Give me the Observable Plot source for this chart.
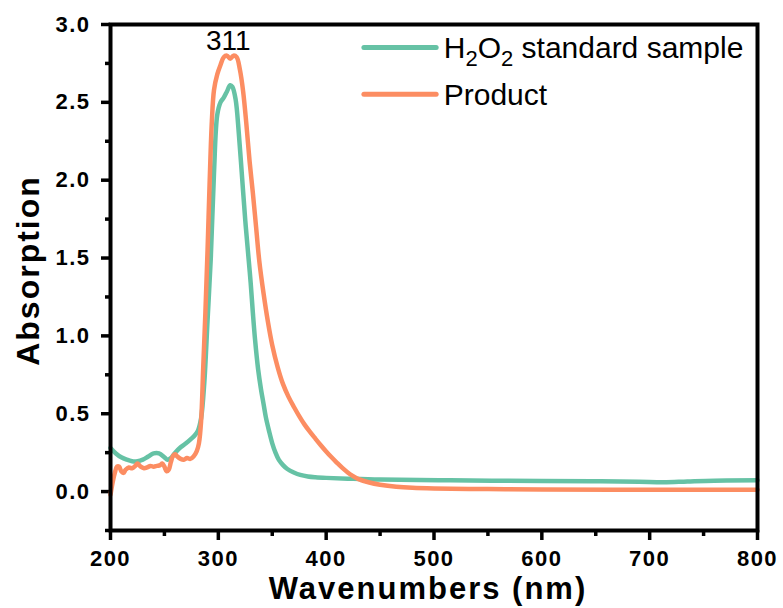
<!DOCTYPE html>
<html>
<head>
<meta charset="utf-8">
<script src="https://cdn.jsdelivr.net/npm/d3@7"></script>
<script src="https://cdn.jsdelivr.net/npm/@observablehq/plot@0.6"></script>
<style>
  html, body { margin: 0; padding: 0; background: #fff; }
  #chart svg { display: block; }
  g[aria-label="y-axis tick label"] text, g[aria-label="x-axis tick label"] text { letter-spacing: 1.5px; }
</style>
</head>
<body>
<div id="chart"></div>
<script>
// ---- data ----
const h2o2Wl = [200,205,210,215,220,225,230,235,240,245,250,253,256,260,265,270,275,278,281,284,287,290,293,296,299,302,305,308,311,313,316,319,322,325,328,330,332,334,337,339.5,342,344,347,350,353,356,360,364,370,376,383,390,400,420,450,515,600,650,690,713,735,760,800];
const h2o2Abs = [0.28,0.245,0.22,0.205,0.195,0.195,0.205,0.225,0.245,0.245,0.22,0.205,0.215,0.25,0.285,0.31,0.34,0.36,0.39,0.47,0.70,1.10,1.50,2.05,2.42,2.50,2.53,2.57,2.61,2.60,2.52,2.30,2.02,1.74,1.50,1.34,1.15,0.98,0.78,0.66,0.56,0.48,0.39,0.31,0.25,0.205,0.17,0.145,0.123,0.107,0.097,0.092,0.088,0.083,0.077,0.072,0.068,0.066,0.063,0.06,0.065,0.07,0.072];
const prodWl = [200,202,204,206,208,210,212,214,217,220,223,225,228,231,234,237,240,243,246,248,250,252,254,256,258,260,262,265,268,271,274,277,280,282,284,286,288,290,292,294,296,299,302,305,308,311,314,317,320,323,326,329,332,335,338,342,346,350,355,360,365,370,375,380,385,390,395,400,405,410,415,420,425,430,440,450,465,480,500,550,600,700,800];
const prodAbs = [-0.02,0.06,0.12,0.16,0.16,0.13,0.12,0.14,0.155,0.15,0.165,0.18,0.16,0.15,0.155,0.165,0.16,0.165,0.17,0.18,0.16,0.13,0.14,0.19,0.23,0.24,0.225,0.21,0.205,0.215,0.21,0.225,0.26,0.31,0.45,0.80,1.15,1.55,2.00,2.38,2.58,2.68,2.74,2.79,2.80,2.78,2.80,2.79,2.71,2.57,2.36,2.12,1.92,1.70,1.48,1.27,1.09,0.94,0.80,0.69,0.61,0.545,0.485,0.43,0.383,0.34,0.298,0.258,0.22,0.185,0.152,0.123,0.099,0.08,0.058,0.044,0.031,0.024,0.02,0.016,0.013,0.012,0.012];

const seriesNames = ["H2O2 standard sample", "Product"];
const seriesColors = ["#66c2a5", "#fc8d62"];
const xMajor = [200,300,400,500,600,700,800];
const xMinor = [250,350,450,550,650,750];
const yMajor = [0,0.5,1,1.5,2,2.5,3];
const yMinor = [-0.25,0.25,0.75,1.25,1.75,2.25,2.75];
const xTitle = "Wavenumbers (nm)";
const yTitle = "Absorption";
const peakLabel = {x: 311, y: 2.8, text: "311"};

// ---- build ----
const rows = [
  ...h2o2Wl.map((w, i) => ({wl: w, abs: h2o2Abs[i], s: seriesNames[0]})),
  ...prodWl.map((w, i) => ({wl: w, abs: prodAbs[i], s: seriesNames[1]}))
];
// legend placement (data space, inside the frame)
const legX1 = 435, legX2 = 502, legTextX = 509;
const legY = [2.853, 2.552];
const legend = seriesNames.map((s, i) => ({s, y: legY[i]}));

const font = "'Liberation Sans', Arial, sans-serif";
const plot = Plot.plot({
  width: 783,
  height: 608,
  marginLeft: 110,
  marginRight: 26,
  marginTop: 24,
  marginBottom: 78,
  style: {fontFamily: font, color: "#000", background: "#fff"},
  x: {domain: [200, 800]},
  y: {domain: [-0.25, 3.0]},
  color: {domain: seriesNames, range: seriesColors},
  marks: [
    Plot.axisY({ticks: yMajor, tickSize: 9, tickPadding: 11, tickFormat: d3.format(".1f"), fontSize: 22, fontWeight: "bold", strokeWidth: 3.5, label: null}),
    Plot.axisY({ticks: yMinor, tickSize: 5, tickFormat: () => "", strokeWidth: 3.5, label: null}),
    Plot.axisX({ticks: xMajor, tickSize: 10, tickPadding: 10, tickFormat: d3.format("d"), fontSize: 22, fontWeight: "bold", strokeWidth: 3.5, label: null}),
    Plot.axisX({ticks: xMinor, tickSize: 6, tickFormat: () => "", strokeWidth: 3.5, label: null}),
    Plot.line(rows, {x: "wl", y: "abs", z: "s", stroke: "s", strokeWidth: 4.5, curve: "catmull-rom", strokeLinejoin: "round", strokeLinecap: "round"}),
    Plot.frame({stroke: "#000", strokeWidth: 4}),
    Plot.text([peakLabel], {x: "x", y: "y", text: "text", fontSize: 28, dx: -2, dy: -6, lineAnchor: "bottom", fill: "#000"}),
    Plot.link(legend, {x1: () => legX1, x2: () => legX2, y1: "y", y2: "y", stroke: "s", strokeWidth: 5, strokeLinecap: "round"}),
    Plot.text(legend, {x: () => legTextX, y: "y", text: "s", textAnchor: "start", fontSize: 30, lineAnchor: "middle", fill: "#000", dy: 1}),
    Plot.text([xTitle], {frameAnchor: "bottom", text: d => d, fontSize: 31, fontWeight: "bold", textAnchor: "middle", lineAnchor: "middle", dy: 59, dx: -6, fill: "#000"}),
    Plot.text([yTitle], {frameAnchor: "left", text: d => d, fontSize: 32, fontWeight: "bold", textAnchor: "middle", lineAnchor: "middle", rotate: -90, dx: -82, dy: -7, fill: "#000"})
  ]
});

// letter spacing for titles
d3.select(plot).selectAll("text").each(function() {
  const t = this.textContent;
  if (t === xTitle || t === yTitle) this.setAttribute("letter-spacing", "2px");
});
// subscripts for H2O2
d3.select(plot).selectAll("text").each(function() {
  if (this.textContent === seriesNames[0]) {
    const el = d3.select(this);
    el.text(null);
    el.append("tspan").text("H");
    el.append("tspan").attr("dy", 8).attr("font-size", 22).text("2");
    el.append("tspan").attr("dy", -8).text("O");
    el.append("tspan").attr("dy", 8).attr("font-size", 22).text("2");
    el.append("tspan").attr("dy", -8).text(" standard sample");
  }
});
document.getElementById("chart").appendChild(plot);
</script>
</body>
</html>
